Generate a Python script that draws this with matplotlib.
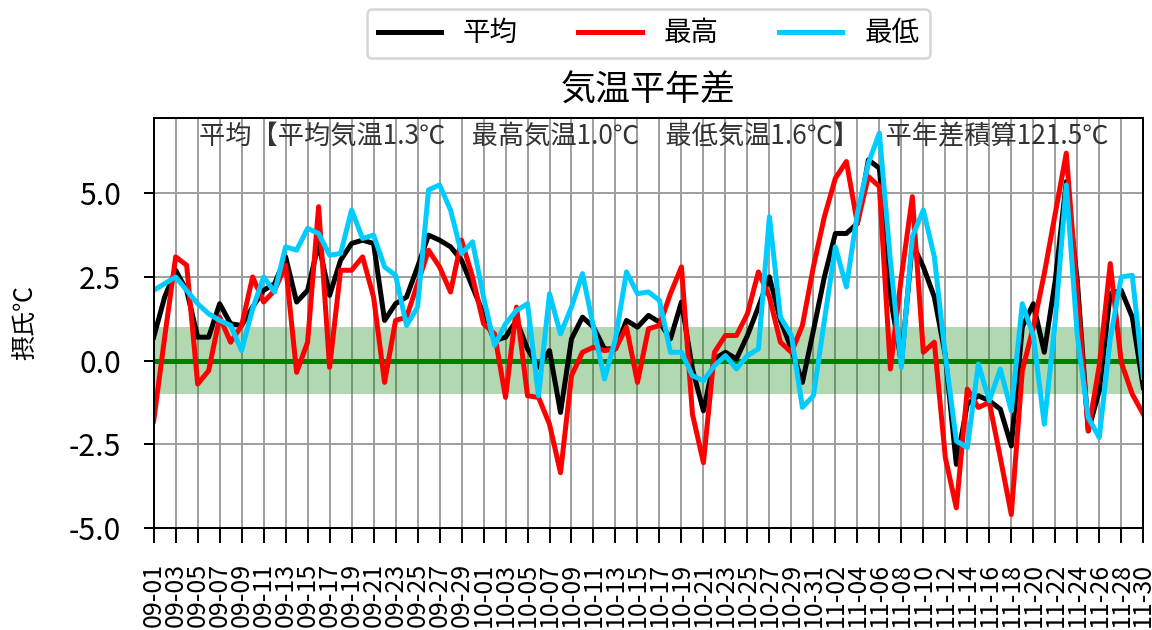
import pandas as pd
import matplotlib
matplotlib.use('Agg')
import matplotlib.pyplot as plt

plt.rcParams['font.family'] = ['Noto Sans CJK JP', 'DejaVu Sans']

# 2023-09-01 .. 11-30 daily anomaly (deg C)
dates = pd.date_range('2023-09-01', '2023-11-30')
labels = [d.strftime('%m-%d') for d in dates]

avg = [0.7, 1.9, 2.7, 2.1, 0.7, 0.7, 1.7, 1.1, 1.05, 1.6,
       2.1, 2.3, 3.1, 1.75, 2.1, 3.5, 1.95, 3.0, 3.5, 3.6,
       3.5, 1.2, 1.7, 1.9, 2.8, 3.75, 3.6, 3.4, 3.0, 2.2,
       1.4, 0.6, 0.7, 1.2, 0.35, -0.2, 0.3, -1.55, 0.65, 1.3,
       1.0, 0.35, 0.35, 1.2, 1.0, 1.35, 1.15, 0.65, 1.75, -0.25,
       -1.5, 0.05, 0.25, 0.05, 0.75, 1.6, 2.5, 1.2, 0.35, -0.65,
       0.9, 2.5, 3.8, 3.8, 4.1, 6.0, 5.75, 1.9, -0.05, 3.5,
       2.8, 1.9, 0.15, -3.1, -1.3, -1.05, -1.2, -1.45, -2.55, 1.0,
       1.7, 0.25, 2.4, 5.35, 2.4, -2.1, -0.9, 2.0, 2.1, 1.3,
       -0.8]
tmax = [-1.8, 0.7, 3.1, 2.85, -0.7, -0.3, 1.3, 0.55, 1.05, 2.5,
        1.75, 2.1, 2.85, -0.35, 0.55, 4.6, -0.2, 2.7, 2.7, 3.1,
        1.9, -0.65, 1.2, 1.3, 2.3, 3.3, 2.8, 2.05, 3.6, 2.5,
        1.1, 0.8, -1.1, 1.6, -1.05, -1.1, -1.9, -3.35, -0.45, 0.25,
        0.4, 0.3, 0.35, 1.0, -0.65, 0.95, 1.05, 2.0, 2.8, -1.6,
        -3.05, 0.25, 0.75, 0.75, 1.4, 2.65, 1.9, 0.55, 0.25, 1.05,
        2.8, 4.3, 5.45, 5.95, 4.1, 5.5, 5.2, -0.25, 2.5, 4.9,
        0.25, 0.55, -2.9, -4.4, -0.85, -1.4, -1.25, -2.9, -4.6, -0.3,
        1.0, 2.6, 4.4, 6.2, 2.0, -2.1, -0.15, 2.9, -0.05, -1.0,
        -1.6]
tmin = [2.1, 2.3, 2.5, 2.1, 1.7, 1.4, 1.2, 1.05, 0.3, 1.55,
        2.5, 2.05, 3.4, 3.3, 3.95, 3.8, 3.15, 3.2, 4.5, 3.65,
        3.75, 2.8, 2.55, 1.05, 1.6, 5.1, 5.25, 4.5, 3.2, 3.55,
        1.9, 0.45, 1.1, 1.5, 1.7, -1.05, 2.0, 0.8, 1.6, 2.6,
        1.0, -0.55, 0.65, 2.65, 2.0, 2.05, 1.8, 0.25, 0.25, -0.45,
        -0.6, -0.15, 0.15, -0.25, 0.15, 0.35, 4.3, 1.3, 0.75, -1.4,
        -1.05, 1.2, 3.4, 2.2, 4.4, 5.9, 6.8, 3.0, -0.2, 3.7,
        4.5, 3.1, 0.15, -2.4, -2.6, -0.1, -1.2, -0.25, -1.5, 1.7,
        0.75, -1.9, 1.2, 5.25, 0.75, -1.7, -2.3, 0.65, 2.5, 2.55,
        -0.5]

summary = '平均【平均気温1.3℃　最高気温1.0℃　最低気温1.6℃】　平年差積算121.5℃'
yticks = [-5, -2.5, 0, 2.5, 5]

x = list(range(len(dates)))

fig = plt.figure(figsize=(6.4, 3.5), dpi=180)
ax = fig.add_axes([0.1334, 0.162, 0.859, 0.6507])

ax.axhspan(-1, 1, color='green', alpha=0.3, lw=0)
ax.axhline(0, color='green', lw=2)
ax.plot(x, avg, color='black', lw=2, label='平均')
ax.plot(x, tmax, color='red', lw=2, label='最高')
ax.plot(x, tmin, color='#00ccff', lw=2, label='最低')

ax.set_xlim(0, len(x) - 1)
ax.set_ylim(-5, 7.25)
ax.set_yticks(yticks)
ax.set_yticklabels(['%.1f' % v for v in yticks], fontsize=12)
ax.set_xticks(x[::2])
ax.set_xticklabels(labels[::2], rotation=90, fontsize=10)
ax.tick_params(axis='x', length=6, pad=8)
ax.tick_params(axis='y', length=4, pad=9)
ax.grid(True, color='#a0a0a0', lw=0.8)
ax.set_axisbelow(True)

ax.set_ylabel('摂氏℃', fontsize=10, labelpad=12)
ax.set_title('気温平年差', fontsize=14, pad=7)
ax.text(0.505, 0.955, summary, transform=ax.transAxes, ha='center', va='center',
        fontsize=10.5, color='#333333')

ax.legend(loc='upper center', bbox_to_anchor=(0.5, 1.265), ncol=3, borderaxespad=0,
          fontsize=11, handlelength=2.3, columnspacing=2.2)

fig.savefig('out.png', dpi=180)
